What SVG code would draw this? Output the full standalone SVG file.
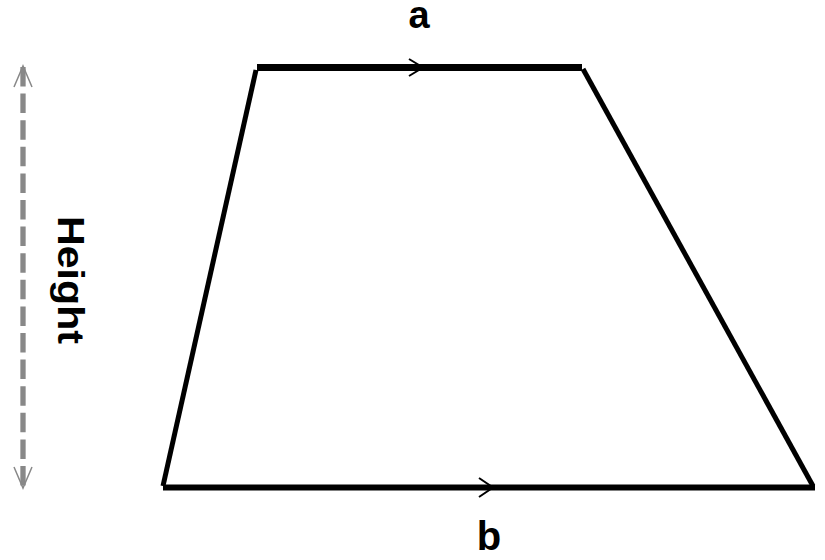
<svg xmlns="http://www.w3.org/2000/svg" width="825" height="560" viewBox="0 0 825 560">
<style>
.edge{stroke:#000;stroke-linecap:butt;fill:none}
.chev{stroke:#000;stroke-width:2;fill:none}
.lbl{font-family:"Liberation Sans",Arial,sans-serif;font-weight:bold;fill:#000}
.dim{stroke:#888;fill:none}
</style>
<rect width="825" height="560" fill="#fff"/>
<g id="trapezoid">
<line class="edge" x1="257" y1="67.5" x2="582" y2="67.5" stroke-width="7"/>
<line class="edge" x1="163" y1="487.5" x2="815" y2="487.5" stroke-width="6"/>
<line class="edge" x1="256" y1="70" x2="163" y2="486" stroke-width="5"/>
<line class="edge" x1="583" y1="69" x2="813" y2="486" stroke-width="5"/>
</g>
<g id="connectors">
<polyline class="chev" points="409,59 423,67.5 409,76"/>
<polyline class="chev" points="479,478 493,487.5 479,497"/>
</g>
<g id="height-dimension">
<line class="dim" x1="23" y1="67" x2="23" y2="487" stroke-width="5.3" stroke-dasharray="19.5 7.1"/>
<polyline class="dim" stroke-width="1.5" points="14,87 23,66 32,87"/>
<polyline class="dim" stroke-width="1.5" points="14,467 23,488 32,467"/>
</g>
<g id="labels">
<text class="lbl" x="419" y="28" font-size="38" text-anchor="middle">a</text>
<text class="lbl" x="489" y="550" font-size="40" text-anchor="middle">b</text>
<text class="lbl" x="58" y="280" font-size="37" text-anchor="middle" textLength="128" lengthAdjust="spacingAndGlyphs" transform="rotate(90 58 280)">Height</text>
</g>
</svg>
